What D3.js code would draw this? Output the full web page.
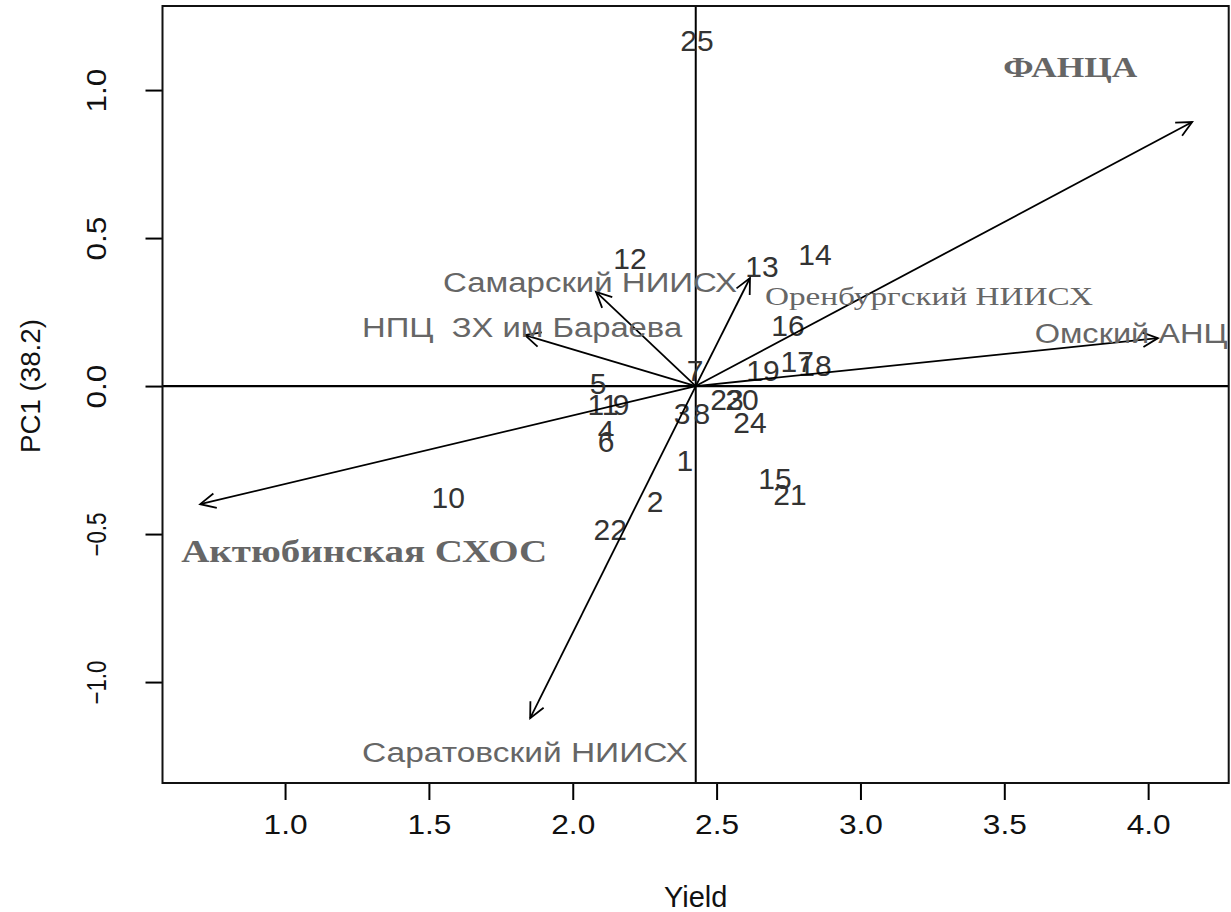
<!DOCTYPE html>
<html>
<head>
<meta charset="utf-8">
<script src="https://cdn.jsdelivr.net/npm/d3@7"></script>
<style>
  html, body { margin: 0; padding: 0; background: #fff; }
  svg { display: block; }
</style>
</head>
<body>
<svg id="chart" width="1231" height="912"></svg>
<script>
// ---------- data ----------
const genotypes = ["1","2","3","4","5","6","7","8","9","10","11","12","13","14","15","16","17","18","19","20","21","22","23","24","25"];
const genoYield = [2.390,2.286,2.380,2.116,2.088,2.116,2.425,2.449,2.168,1.567,2.105,2.199,2.658,2.842,2.703,2.748,2.780,2.842,2.661,2.588,2.755,2.130,2.536,2.616,2.432];
const genoPC1   = [-0.250,-0.389,-0.091,-0.149,0.007,-0.186,0.054,-0.091,-0.061,-0.378,-0.061,0.432,0.405,0.443,-0.311,0.203,0.084,0.068,0.054,-0.047,-0.365,-0.486,-0.047,-0.122,1.169];

const envNames  = ["ФАНЦА","Самарский НИИСХ","НПЦ  ЗХ им Бараева","Оренбургский НИИСХ","Омский АНЦ","Актюбинская СХОС","Саратовский НИИСХ"];
const envTipX   = [4.153, 2.081, 1.834, 2.616, 4.034, 0.705, 1.852];
const envTipY   = [0.892, 0.318, 0.172, 0.365, 0.162, -0.399, -1.122];
const envLabelX = [3.729, 2.060, 1.824, 3.238, 3.941, 1.275, 1.834];
const envLabelY = [1.078, 0.348, 0.196, 0.304, 0.176, -0.557, -1.240];

const meanYield = 2.4275;
const xTicks = [1.0, 1.5, 2.0, 2.5, 3.0, 3.5, 4.0];
const yTicks = [-1.0, -0.5, 0.0, 0.5, 1.0];
const xTitle = "Yield";
const yTitle = "PC1 (38.2)";

// ---------- styles (not data) ----------
const envStyle = [
  {family:"Liberation Serif", size:30, weight:"bold", width:134},
  {family:"Liberation Sans", size:27, weight:"normal", width:294},
  {family:"Liberation Sans", size:27, weight:"normal", width:320},
  {family:"Liberation Serif", size:25, weight:"normal", width:328},
  {family:"Liberation Sans", size:27, weight:"normal", width:193},
  {family:"Liberation Serif", size:32, weight:"bold", width:366},
  {family:"Liberation Sans", size:27, weight:"normal", width:326}
];

// ---------- layout ----------
const L = 162.5, T = 6, R = 1228.7, B = 783;
const svg = d3.select("#chart");
const x = d3.scaleLinear().domain([0.574, 4.28]).range([L, R]);
const y = d3.scaleLinear().domain([-1.341, 1.284]).range([B, T]);

// reference lines
svg.append("line").attr("x1", x(meanYield)).attr("x2", x(meanYield)).attr("y1", T).attr("y2", B)
  .attr("stroke", "#000").attr("stroke-width", 2);
svg.append("line").attr("x1", L).attr("x2", R).attr("y1", y(0)).attr("y2", y(0))
  .attr("stroke", "#000").attr("stroke-width", 2.2);

// axes
const xAxis = svg.append("g").attr("transform", `translate(0,${B})`)
  .call(d3.axisBottom(x).tickValues(xTicks).tickFormat(d3.format(".1f")).tickSize(17).tickSizeOuter(0));
xAxis.select(".domain").remove();
xAxis.selectAll(".tick line").attr("stroke", "#000").attr("stroke-width", 2);
xAxis.selectAll(".tick text").attr("y", 51).attr("dy", "0")
  .attr("font-family", "Liberation Sans, Arial, sans-serif").attr("font-size", 28).attr("fill", "#111")
  .attr("textLength", 44).attr("lengthAdjust", "spacingAndGlyphs");

const yAxis = svg.append("g").attr("transform", `translate(${L},0)`)
  .call(d3.axisLeft(y).tickValues(yTicks).tickFormat(d3.format(".1f")).tickSize(17).tickSizeOuter(0));
yAxis.select(".domain").remove();
yAxis.selectAll(".tick line").attr("stroke", "#000").attr("stroke-width", 2);
yAxis.selectAll(".tick text").attr("x", 0).attr("dy", "0")
  .attr("transform", "translate(-66,0) rotate(-90)")
  .attr("text-anchor", "middle").attr("dominant-baseline", "central")
  .attr("font-family", "Liberation Sans, Arial, sans-serif").attr("font-size", 28).attr("fill", "#111")
  .attr("textLength", 44).attr("lengthAdjust", "spacingAndGlyphs");

// frame
svg.append("rect").attr("x", L).attr("y", T).attr("width", R - L).attr("height", B - T)
  .attr("fill", "none").attr("stroke", "#111").attr("stroke-width", 2);

// titles
svg.append("text").attr("x", x(meanYield)).attr("y", 907).attr("text-anchor", "middle")
  .attr("font-family", "Liberation Sans, Arial, sans-serif").attr("font-size", 29).attr("fill", "#111")
  .text(xTitle);
svg.append("text").attr("transform", `translate(31,${y(0)}) rotate(-90)`)
  .attr("text-anchor", "middle").attr("dominant-baseline", "central")
  .attr("font-family", "Liberation Sans, Arial, sans-serif").attr("font-size", 27).attr("fill", "#111")
  .attr("textLength", 134).attr("lengthAdjust", "spacingAndGlyphs")
  .text(yTitle);

// genotype labels
svg.append("g").selectAll("text").data(genotypes).join("text")
  .attr("x", (d, i) => x(genoYield[i])).attr("y", (d, i) => y(genoPC1[i]))
  .attr("text-anchor", "middle").attr("dominant-baseline", "central")
  .attr("font-family", "Liberation Sans, Arial, sans-serif").attr("font-size", 30).attr("fill", "#333")
  .text(d => d);

// environment arrows
const ox = x(meanYield), oy = y(0);
const head = 17, ang = Math.PI / 7;
const arrows = svg.append("g").attr("stroke", "#000").attr("stroke-width", 1.8).attr("fill", "none");
envNames.forEach((n, i) => {
  const tx = x(envTipX[i]), ty = y(envTipY[i]);
  arrows.append("line").attr("x1", ox).attr("y1", oy).attr("x2", tx).attr("y2", ty);
  const a = Math.atan2(ty - oy, tx - ox);
  const p1 = [tx - head * Math.cos(a - ang), ty - head * Math.sin(a - ang)];
  const p2 = [tx - head * Math.cos(a + ang), ty - head * Math.sin(a + ang)];
  arrows.append("path").attr("d", `M${p1[0]},${p1[1]}L${tx},${ty}L${p2[0]},${p2[1]}`);
});

// environment labels
svg.append("g").selectAll("text").data(envNames).join("text")
  .attr("x", (d, i) => x(envLabelX[i])).attr("y", (d, i) => y(envLabelY[i]))
  .attr("text-anchor", "middle").attr("dominant-baseline", "central")
  .attr("font-family", (d, i) => envStyle[i].family)
  .attr("font-size", (d, i) => envStyle[i].size)
  .attr("font-weight", (d, i) => envStyle[i].weight)
  .attr("textLength", (d, i) => envStyle[i].width)
  .attr("lengthAdjust", "spacingAndGlyphs")
  .attr("fill", "#666")
  .style("white-space", "pre")
  .text(d => d);
</script>
</body>
</html>
